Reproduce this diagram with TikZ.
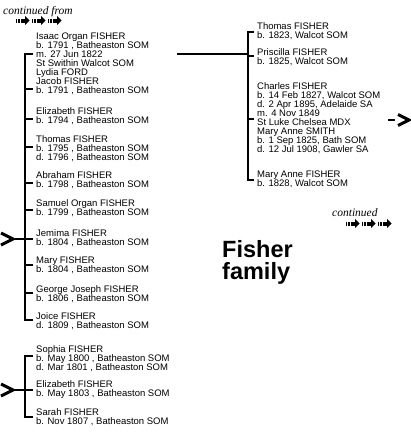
\documentclass[tikz,border=0pt]{standalone}
\usepackage{fontspec}
\setmainfont{Liberation Sans}
\newfontfamily\serifit{Liberation Serif}
\begin{document}
\begin{tikzpicture}[x=1pt,y=-1pt,
  entry/.style={anchor=base west,inner sep=0pt,align=left,font=\fontsize{9.5}{9}\selectfont},
  brk/.style={line width=2pt},
  chev/.style={line width=3pt,line join=miter},
  cont/.style={anchor=base west,inner sep=0pt,font=\fontsize{11.5}{12}\selectfont\serifit\itshape},
  titletext/.style={anchor=base west,inner sep=0pt,align=left,font=\fontsize{23.5}{22}\selectfont\bfseries},
  arrowunit/.pic={
    \fill (0,-2) rectangle (1.2,2);
    \fill (2.4,-2) rectangle (3.6,2);
    \fill (4.8,-2) rectangle (9,2);
    \fill (9,-4.5) -- (13.5,0) -- (9,4.5) -- cycle;
  }
]
\fill[white] (0,0) rectangle (410,439);
\useasboundingbox (0,0) rectangle (410,439);

% continued from
\node[cont] (contfrom) at (3,14) {continued from};
\pic at (16,20.5) {arrowunit};
\pic at (32,20.5) {arrowunit};
\pic at (48,20.5) {arrowunit};

% left column (anchor = baseline of last line)
\node[entry] (isaac) at (36,75.5) {Isaac Organ FISHER\\b. 1791 , Batheaston SOM\\m. 27 Jun 1822\\St Swithin Walcot SOM\\Lydia FORD};
\node[entry] (jacob) at (36,93.5) {Jacob FISHER\\b. 1791 , Batheaston SOM};
\node[entry] (eliz) at (36,123) {Elizabeth FISHER\\b. 1794 , Batheaston SOM};
\node[entry] (thomas) at (36,160) {Thomas FISHER\\b. 1795 , Batheaston SOM\\d. 1796 , Batheaston SOM};
\node[entry] (abraham) at (36,187.5) {Abraham FISHER\\b. 1798 , Batheaston SOM};
\node[entry] (samuel) at (36,215) {Samuel Organ FISHER\\b. 1799 , Batheaston SOM};
\node[entry] (jemima) at (36,245) {Jemima FISHER\\b. 1804 , Batheaston SOM};
\node[entry] (mary) at (36,272.5) {Mary FISHER\\b. 1804 , Batheaston SOM};
\node[entry] (george) at (36,301) {George Joseph FISHER\\b. 1806 , Batheaston SOM};
\node[entry] (joice) at (36,328.5) {Joice FISHER\\d. 1809 , Batheaston SOM};

\coordinate (lt) at (25,53.5);
\coordinate (lb) at (25,320);
\draw[brk] (33,53.5) -- (lt) -- (lb) -- (33,320);
\foreach \yy in {89,119,147,183,210,265,293} \draw[brk] (25,\yy) -- (33,\yy);
% incoming arrow to Jemima
\coordinate (inA) at (13,239);
\draw[brk] (inA) -- (33,239);
\draw[chev] (1,233) -- (inA) -- (1,245);

% lower group
\node[entry] (sophia) at (36,370) {Sophia FISHER\\b. May 1800 , Batheaston SOM\\d. Mar 1801 , Batheaston SOM};
\node[entry] (eliz2) at (36,396) {Elizabeth FISHER\\b. May 1803 , Batheaston SOM};
\node[entry] (sarah) at (36,424) {Sarah FISHER\\b. Nov 1807 , Batheaston SOM};
\coordinate (mt) at (25,355.5);
\coordinate (mb) at (25,416.5);
\draw[brk] (33,355.5) -- (mt) -- (mb) -- (33,416.5);
\coordinate (inB) at (13,390);
\draw[brk] (inB) -- (33,390);
\draw[chev] (1,384) -- (inB) -- (1,396);

% right column
\node[entry] (thomas2) at (257,38.5) {Thomas FISHER\\b. 1823, Walcot SOM};
\node[entry] (priscilla) at (257,64) {Priscilla FISHER\\b. 1825, Walcot SOM};
\node[entry] (charles) at (257,152.5) {Charles FISHER\\b. 14 Feb 1827, Walcot SOM\\d. 2 Apr 1895, Adelaide SA\\m. 4 Nov 1849\\St Luke Chelsea MDX\\Mary Anne SMITH\\b. 1 Sep 1825, Bath SOM\\d. 12 Jul 1908, Gawler SA};
\node[entry] (maryanne) at (257,186) {Mary Anne FISHER\\b. 1828, Walcot SOM};
\coordinate (rt) at (248,31.5);
\coordinate (rb) at (248,180);
\draw[brk] (254,31.5) -- (rt) -- (rb) -- (254,180);
\foreach \yy in {56,119} \draw[brk] (248,\yy) -- (254,\yy);
\coordinate (fam) at (177,53.5);
\draw[brk] (fam) -- (248,53.5);

% outgoing arrow
\coordinate (outA) at (409,120);
\draw[line width=2.5pt] (388,120) -- (395,120);
\draw[chev] (398,114.5) -- (outA) -- (398,125.5);

% continued
\node[cont] (contto) at (332,216) {continued};
\pic at (346,223.5) {arrowunit};
\pic at (362,223.5) {arrowunit};
\pic at (378,223.5) {arrowunit};

% title
\node[titletext] (title) at (222,279) {Fisher\\family};
\end{tikzpicture}
\end{document}
